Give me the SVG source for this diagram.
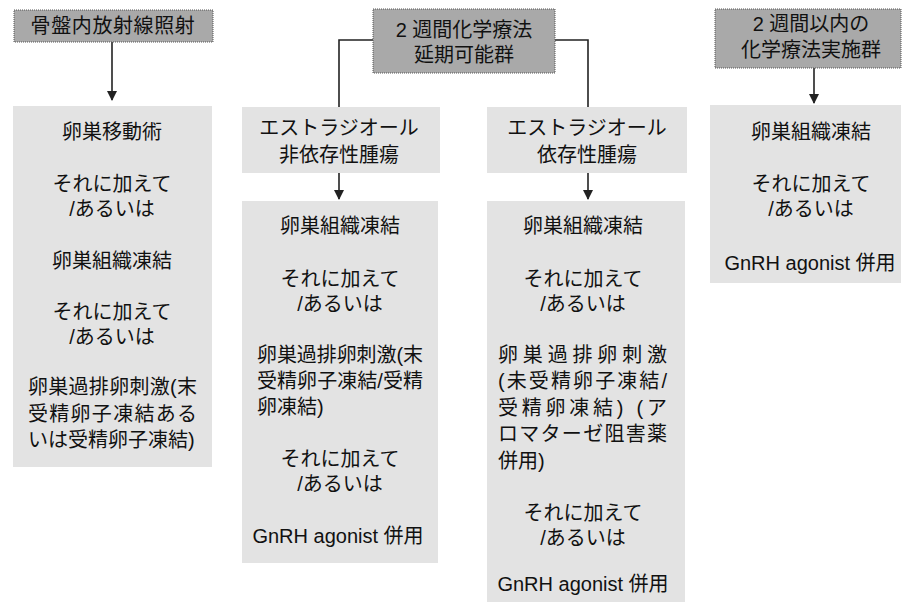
<svg xmlns="http://www.w3.org/2000/svg" width="903" height="604" viewBox="0 0 903 604">
  <defs>
    <marker id="arr" markerWidth="10" markerHeight="10" refX="9" refY="5" orient="auto" markerUnits="userSpaceOnUse">
      <path d="M0,0 L10,5 L0,10 Z" fill="#222"/>
    </marker>
    <style>
      .hdr { fill: #a9a9a9; stroke: #555; stroke-width: 1; stroke-dasharray: 1 1; }
      .box { fill: #e3e3e3; }
      text { font-family: "Liberation Sans", "Noto Sans CJK JP", sans-serif; font-size: 20px; fill: #111; }
      .c { text-anchor: middle; }
      .ln { fill: none; stroke: #222; stroke-width: 1.6; }
    </style>
  </defs>
  <rect width="903" height="604" fill="#ffffff"/>

  <g id="connectors">
    <line class="ln" x1="112" y1="42" x2="112" y2="100" marker-end="url(#arr)"/>
    <polyline class="ln" points="373,40 339,40 339,107"/>
    <polyline class="ln" points="555,40 588,40 588,107"/>
    <line class="ln" x1="339" y1="173" x2="339" y2="199" marker-end="url(#arr)"/>
    <line class="ln" x1="588" y1="173" x2="588" y2="199" marker-end="url(#arr)"/>
    <line class="ln" x1="814" y1="68" x2="814" y2="103" marker-end="url(#arr)"/>
  </g>

  <g id="header-radiation">
    <rect class="hdr" x="14" y="10" width="199" height="32"/>
    <text class="c" x="113" y="33" letter-spacing="0.6">骨盤内放射線照射</text>
  </g>

  <g id="header-delay">
    <rect class="hdr" x="373" y="9" width="182" height="64"/>
    <text class="c" x="464" y="37">2 週間化学療法</text>
    <text class="c" x="464" y="62">延期可能群</text>
  </g>

  <g id="header-within">
    <rect class="hdr" x="715" y="9" width="186" height="59"/>
    <text class="c" x="811" y="31">2 週間以内の</text>
    <text class="c" x="811" y="57">化学療法実施群</text>
  </g>

  <g id="box-radiation">
    <rect class="box" x="13" y="106" width="199" height="361"/>
    <text class="c" x="112" y="139">卵巣移動術</text>
    <text class="c" x="112" y="191">それに加えて</text>
    <text class="c" x="112" y="216">/あるいは</text>
    <text class="c" x="112" y="268">卵巣組織凍結</text>
    <text class="c" x="112" y="319">それに加えて</text>
    <text class="c" x="112" y="344">/あるいは</text>
    <text x="28" y="394" textLength="169" lengthAdjust="spacing">卵巣過排卵刺激(末</text>
    <text x="28" y="421" textLength="169" lengthAdjust="spacing">受精卵子凍結ある</text>
    <text x="28" y="447">いは受精卵子凍結)</text>
  </g>

  <g id="box-e2-independent">
    <rect class="box" x="242" y="107" width="198" height="66"/>
    <text class="c" x="339" y="135">エストラジオール</text>
    <text class="c" x="339" y="162">非依存性腫瘍</text>
  </g>

  <g id="box-e2-dependent">
    <rect class="box" x="487" y="107" width="200" height="66"/>
    <text class="c" x="587" y="135">エストラジオール</text>
    <text class="c" x="587" y="162">依存性腫瘍</text>
  </g>

  <g id="box-independent-options">
    <rect class="box" x="242" y="201" width="196" height="362"/>
    <text class="c" x="340" y="233">卵巣組織凍結</text>
    <text class="c" x="340" y="286">それに加えて</text>
    <text class="c" x="340" y="311">/あるいは</text>
    <text x="257" y="362" textLength="166" lengthAdjust="spacing">卵巣過排卵刺激(末</text>
    <text x="257" y="388" textLength="166" lengthAdjust="spacing">受精卵子凍結/受精</text>
    <text x="257" y="414">卵凍結)</text>
    <text class="c" x="340" y="466">それに加えて</text>
    <text class="c" x="340" y="491">/あるいは</text>
    <text class="c" x="338" y="543">GnRH agonist 併用</text>
  </g>

  <g id="box-dependent-options">
    <rect class="box" x="487" y="201" width="198" height="401"/>
    <text class="c" x="583" y="233">卵巣組織凍結</text>
    <text class="c" x="583" y="286">それに加えて</text>
    <text class="c" x="583" y="311">/あるいは</text>
    <text x="498" y="362" textLength="169" lengthAdjust="spacing">卵巣過排卵刺激</text>
    <text x="498" y="388" textLength="169" lengthAdjust="spacing">(未受精卵子凍結/</text>
    <text x="498" y="415" textLength="169" lengthAdjust="spacing">受精卵凍結) (ア</text>
    <text x="498" y="441" textLength="169" lengthAdjust="spacing">ロマターゼ阻害薬</text>
    <text x="498" y="468">併用)</text>
    <text class="c" x="583" y="520">それに加えて</text>
    <text class="c" x="583" y="545">/あるいは</text>
    <text class="c" x="583" y="591">GnRH agonist 併用</text>
  </g>

  <g id="box-within-options">
    <rect class="box" x="710" y="105" width="191" height="178"/>
    <text class="c" x="811" y="139">卵巣組織凍結</text>
    <text class="c" x="811" y="191">それに加えて</text>
    <text class="c" x="811" y="216">/あるいは</text>
    <text class="c" x="810" y="270">GnRH agonist 併用</text>
  </g>
</svg>
